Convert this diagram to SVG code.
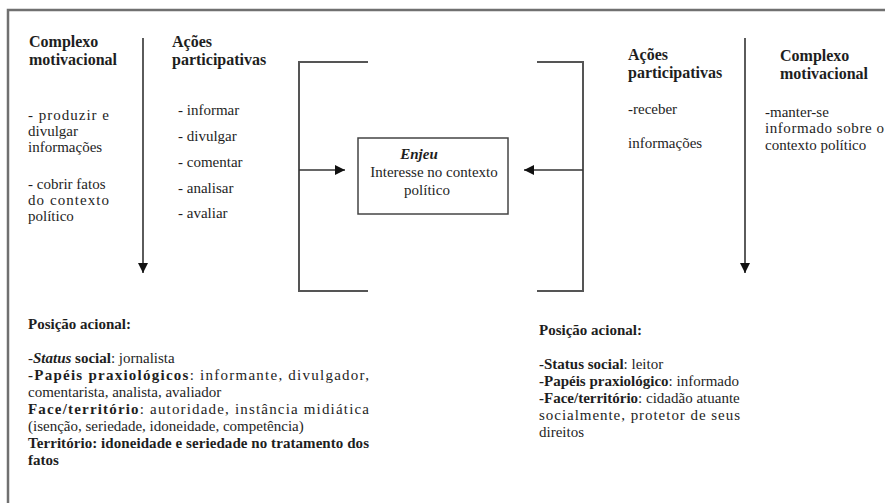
<svg xmlns="http://www.w3.org/2000/svg" width="885" height="503" viewBox="0 0 885 503" font-family="'Liberation Serif', 'DejaVu Serif', serif">
<defs>
<marker id="ah" viewBox="0 0 10 10" refX="10" refY="5" markerWidth="10" markerHeight="10" markerUnits="userSpaceOnUse" orient="auto">
<path d="M0,0 L10,5 L0,10 z" fill="#111"/>
</marker>
<style>
text{font-family:'Liberation Serif','DejaVu Serif',serif;fill:#1e1e1e;font-size:15px}
.h{font-weight:bold;font-size:16px}
.b{font-weight:bold}
.bi{font-weight:bold;font-style:italic}
.ln{stroke:#555;stroke-width:2;fill:none}
.ar{stroke:#333;stroke-width:1.6;fill:none;marker-end:url(#ah)}
</style>
</defs>
<rect width="885" height="503" fill="#fff"/>
<rect x="8" y="10" width="900" height="520" fill="none" stroke="#707070" stroke-width="2.5"/>
<g id="connectors">
<line class="ar" x1="143" y1="38" x2="143" y2="273"/>
<line class="ar" x1="745" y1="38" x2="745" y2="273"/>
<polyline class="ln" points="368,62 299,62 299,291 368,291"/>
<polyline class="ln" points="537,62 583,62 583,291 537,291"/>
<line class="ar" x1="299" y1="170" x2="345" y2="170"/>
<line class="ar" x1="583" y1="170" x2="524" y2="170"/>
</g>
<g id="left-motivacional">
<text class="h" x="29" y="47">Complexo</text>
<text class="h" x="29" y="65">motivacional</text>
<text x="28" y="120" textLength="81" lengthAdjust="spacing">- produzir e</text>
<text x="28" y="136">divulgar</text>
<text x="28" y="152">informações</text>
<text x="28" y="189">- cobrir fatos</text>
<text x="28" y="205" textLength="81" lengthAdjust="spacing">do contexto</text>
<text x="28" y="221">político</text>
</g>
<g id="left-acoes">
<text class="h" x="172" y="47">Ações</text>
<text class="h" x="172" y="65">participativas</text>
<text x="178" y="115">- informar</text>
<text x="178" y="141">- divulgar</text>
<text x="178" y="167">- comentar</text>
<text x="178" y="193">- analisar</text>
<text x="178" y="218">- avaliar</text>
</g>
<g id="enjeu">
<rect x="358" y="138" width="150" height="76" fill="#fff" stroke="#444" stroke-width="1.5"/>
<text class="bi" x="419" y="159" text-anchor="middle">Enjeu</text>
<text x="434" y="177" text-anchor="middle" font-size="14.5">Interesse no contexto</text>
<text x="427" y="195" text-anchor="middle" font-size="14.5">político</text>
</g>
<g id="right-acoes">
<text class="h" x="628" y="60">Ações</text>
<text class="h" x="628" y="78">participativas</text>
<text x="628" y="114">-receber</text>
<text x="628" y="148">informações</text>
</g>
<g id="right-motivacional">
<text class="h" x="780" y="61">Complexo</text>
<text class="h" x="780" y="79">motivacional</text>
<text x="765" y="117">-manter-se</text>
<text x="765" y="133" textLength="119" lengthAdjust="spacing">informado  sobre o</text>
<text x="765" y="150">contexto político</text>
</g>
<g id="left-posicao">
<text class="b" x="28" y="329">Posição acional:</text>
<text x="28" y="363">-<tspan class="bi">Status</tspan><tspan class="b"> social</tspan>: jornalista</text>
<text x="28" y="380" textLength="341" lengthAdjust="spacing"><tspan class="b">-Papéis praxiológicos</tspan>: informante, divulgador,</text>
<text x="28" y="397">comentarista, analista, avaliador</text>
<text x="28" y="414" textLength="341" lengthAdjust="spacing"><tspan class="b">Face/território</tspan>: autoridade, instância midiática</text>
<text x="28" y="431">(isenção, seriedade, idoneidade, competência)</text>
<text class="b" x="28" y="448" textLength="341" lengthAdjust="spacing">Território: idoneidade e seriedade no tratamento dos</text>
<text class="b" x="28" y="465">fatos</text>
</g>
<g id="right-posicao">
<text class="b" x="539" y="335">Posição acional:</text>
<text x="539" y="369"><tspan class="b">-Status social</tspan>: leitor</text>
<text x="539" y="386"><tspan class="b">-Papéis praxiológico</tspan>: informado</text>
<text x="539" y="403"><tspan class="b">-Face/território</tspan>: cidadão atuante</text>
<text x="539" y="420" textLength="201" lengthAdjust="spacing">socialmente, protetor de seus</text>
<text x="539" y="437">direitos</text>
</g>
</svg>
